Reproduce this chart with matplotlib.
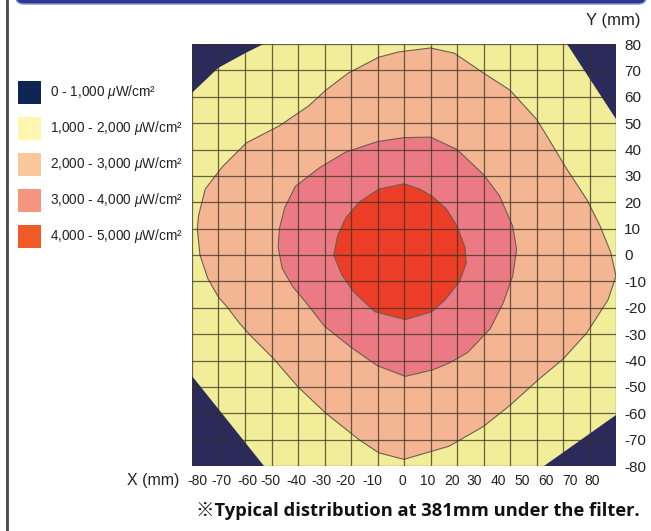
import matplotlib
matplotlib.use('Agg')
import matplotlib.pyplot as plt
from matplotlib.patches import Polygon, Rectangle, FancyBboxPatch
from matplotlib.lines import Line2D
import numpy as np

plt.rcParams['font.family'] = ['Liberation Sans', 'DejaVu Sans']
plt.rcParams['mathtext.fontset'] = 'custom'
plt.rcParams['mathtext.rm'] = 'Liberation Sans'
plt.rcParams['mathtext.it'] = 'Liberation Sans:italic'

# level boundaries (x, y in mm)
red_zone = [(0, 27), (6, 25), (11, 22), (16, 17.5), (20, 11), (23, 3), (23.5, -3),
            (21, -10), (15.5, -17), (10.5, -21.5), (0.5, -24.5), (-11, -21.5),
            (-19, -14), (-23.5, -7.5), (-26.5, 0), (-25, 7.5), (-22, 14),
            (-17, 20), (-9.5, 25)]
pink_zone = [(0, 44.5), (10, 44.7), (20, 40), (30, 30.5), (36, 22.5), (41, 11),
             (42.5, 2), (41, -8), (37.5, -18), (32.5, -28), (24, -37), (17, -41),
             (11, -43.5), (0.5, -46), (-10, -42), (-20, -35), (-30, -27),
             (-37, -18), (-42, -12), (-46, -5), (-47.5, 3), (-47, 10), (-45, 18),
             (-41, 26), (-32, 33), (-22, 39), (-10, 43)]
orange_zone = [(-2, 77), (10, 78.5), (19, 76.5), (30, 69), (40, 62.5), (50, 51.5),
               (54, 45), (61.5, 32.5), (69, 21), (74, 11), (78, 1), (80, -8),
               (77, -17), (69, -29.5), (60, -39.5), (51, -47), (40, -57), (30, -65),
               (17, -72.5), (5, -76), (0, -77.5), (-9.5, -75), (-17, -70),
               (-29.5, -60), (-40, -50), (-49.5, -39), (-57.5, -31), (-62, -26),
               (-66.5, -20), (-70, -16), (-74, -9), (-77, 0), (-78, 10),
               (-77.5, 15), (-75, 25), (-68.5, 33.5), (-59.5, 42.5), (-47, 49),
               (-36, 56.5), (-29.5, 62.5), (-21, 69), (-9.5, 75)]
dark_corners = [
    [(-80, 80), (-53, 80), (-60, 76.5), (-70, 71), (-80, 61.5)],
    [(61.5, 80), (80, 80), (80, 51.5)],
    [(80, -60.5), (80, -80), (53, -80)],
    [(-80, -46), (-80, -80), (-53, -80)],
]

grid_mm = list(range(-80, 81, 10))
y_labels = [str(v) for v in grid_mm]
x_labels = [str(v) for v in grid_mm]
# x labels in the original sit slightly compressed against the grid
x_label_pos = [-78, -69, -59, -50.5, -40.5, -31, -22, -12, -0.8, 9, 18, 26.5,
               35.5, 44.5, 53.5, 62.5, 71]

legend_labels = ['0 - 1,000 $\\mu$W/cm²', '1,000 - 2,000 $\\mu$W/cm²',
                 '2,000 - 3,000 $\\mu$W/cm²', '3,000 - 4,000 $\\mu$W/cm²',
                 '4,000 - 5,000 $\\mu$W/cm²']
legend_colors = ['#0e2654', '#fff7b0', '#fac89b', '#f4967d', '#f05a28']
map_colors = ['#2a2a5c', '#f1ed98', '#f3b592', '#ec7a84', '#ec3d27']

W, H = 651, 531
fig = plt.figure(figsize=(W / 100, H / 100), dpi=100)
ax = fig.add_axes([192 / W, 65 / H, 424 / W, 422 / H])
ax.set_xlim(-80, 80)
ax.set_ylim(-80, 80)
ax.set_facecolor(map_colors[1])

edge = '#6e5e52'
ax.add_patch(Polygon(orange_zone, closed=True, fc=map_colors[2], ec=edge, lw=0.8, zorder=1))
ax.add_patch(Polygon(pink_zone, closed=True, fc=map_colors[3], ec=edge, lw=0.8, zorder=2))
ax.add_patch(Polygon(red_zone, closed=True, fc=map_colors[4], ec=edge, lw=0.8, zorder=3))
for c in dark_corners:
    ax.add_patch(Polygon(c, closed=True, fc=map_colors[0], ec='none', zorder=4))

# 10 mm grid
ax.vlines(grid_mm, -80, 80, colors='#3b3226', lw=0.9, alpha=0.75, zorder=5)
ax.hlines(grid_mm, -80, 80, colors='#3b3226', lw=0.9, alpha=0.75, zorder=5)

for s in ax.spines.values():
    s.set_visible(False)

ax.yaxis.tick_right()
ax.set_yticks(grid_mm)
ax.set_yticklabels(y_labels, fontsize=11, color='#222222')
ax.set_xticks(x_label_pos)
ax.set_xticklabels(x_labels, fontsize=10, color='#222222')
ax.tick_params(length=0, pad=6)
ax.tick_params(axis='y', pad=6)

fig.text(127 / W, 1 - 480 / H, 'X (mm)', fontsize=11.5, color='#222222', va='center', ha='left')
fig.text(641 / W, 1 - 20 / H, 'Y (mm)', fontsize=12, color='#222222', va='center', ha='right')

fig.text(640 / W, 1 - 511 / H, '※Typical distribution at 381mm under the filter.',
         fontsize=13.2, fontweight='bold', ha='right', va='center', color='#111111',
         family=['Open Sans', 'Noto Sans CJK JP', 'DejaVu Sans'])

# legend swatches
sw = 23
for i, (lab, col) in enumerate(zip(legend_labels, legend_colors)):
    cy = 92 + i * 36
    fig.add_artist(Rectangle((18 / W, 1 - (cy + sw / 2) / H), sw / W, sw / H,
                             transform=fig.transFigure, fc=col, ec='none'))
    fig.text(50 / W, 1 - cy / H, lab, fontsize=9.8, va='center', ha='left', color='#222222')

# frame bits of the original page
fig.add_artist(Line2D([7 / W, 7 / W], [0, 1], transform=fig.transFigure, color='#444444', lw=2))
fig.add_artist(FancyBboxPatch((16 / W, 1 - 4 / H), 630 / W, 20 / H,
                              boxstyle='round,pad=0,rounding_size=0.012',
                              transform=fig.transFigure, fc='#2b3990', ec='#8a93c8', lw=1))

fig.savefig('out.png', dpi=100)
